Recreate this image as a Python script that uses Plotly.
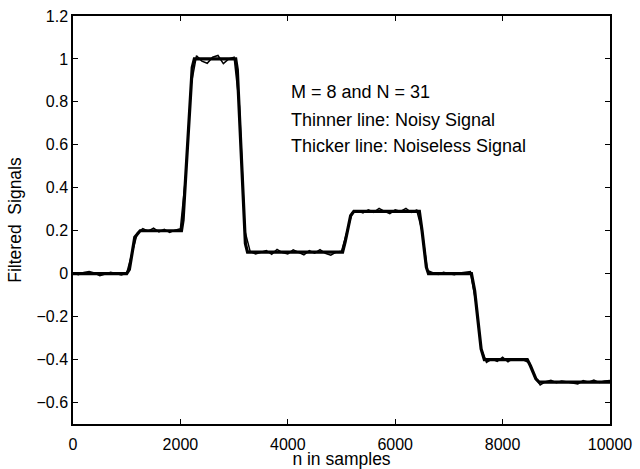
import plotly.graph_objects as go

# Noiseless (thick) signal: breakpoints
clean_n = [0, 1000, 1050, 1150, 1250, 2020, 2050, 2220, 2260, 3030, 3060, 3210, 3250,
           5020, 5070, 5170, 5230, 6450, 6500, 6580, 6620, 7420, 7480, 7600, 7660,
           8460, 8520, 8620, 8680, 10000]
clean_y = [0, 0, 0.02, 0.17, 0.2, 0.2, 0.25, 0.96, 1.0, 1.0, 0.95, 0.14, 0.1,
           0.1, 0.15, 0.27, 0.29, 0.29, 0.2, 0.03, 0, 0, -0.08, -0.35, -0.4,
           -0.4, -0.43, -0.49, -0.505, -0.505]

noisy_n = list(range(0, 10001, 100))
noisy_y = [0.004, -0.005, 0.006, 0.01, 0.003, -0.009, -0.002, 0.007, 0.001, -0.006, 0.002,
           0.09, 0.19,
           0.21, 0.198, 0.212, 0.195, 0.206, 0.192, 0.203, 0.209,
           0.46, 0.88,
           1.015, 0.99, 0.98, 1.008, 1.016, 0.978, 1.0, 1.008,
           0.78, 0.2,
           0.103, 0.092, 0.1, 0.108, 0.09, 0.113, 0.098, 0.092, 0.111, 0.1, 0.088, 0.107,
           0.096, 0.112, 0.095, 0.086, 0.1, 0.104,
           0.19, 0.285,
           0.293, 0.283, 0.297, 0.286, 0.304, 0.29, 0.28, 0.297, 0.29, 0.304, 0.285, 0.296,
           0.2, 0.015,
           0.005, -0.004, 0.006, 0.0, -0.005, 0.003, 0.006, 0.01,
           -0.13, -0.35,
           -0.413, -0.398, -0.408, -0.389, -0.41, -0.396, -0.401, -0.403,
           -0.415, -0.48,
           -0.518, -0.503, -0.496, -0.508, -0.5, -0.505, -0.511, -0.513, -0.498, -0.505,
           -0.495, -0.507, -0.5, -0.498]

x_ticks = [0, 2000, 4000, 6000, 8000, 10000]
y_ticks = [-0.6, -0.4, -0.2, 0, 0.2, 0.4, 0.6, 0.8, 1, 1.2]
y_tick_labels = ["\u22120.6", "\u22120.4", "\u22120.2", "0", "0.2", "0.4", "0.6", "0.8", "1", "1.2"]

notes = ["M = 8 and N = 31", "Thinner line: Noisy Signal", "Thicker line: Noiseless Signal"]
note_y = [0.845, 0.718, 0.596]

fig = go.Figure()
fig.add_trace(go.Scatter(x=clean_n, y=clean_y, mode="lines",
                         line=dict(color="black", width=3.2), showlegend=False))
fig.add_trace(go.Scatter(x=noisy_n, y=noisy_y, mode="lines",
                         line=dict(color="black", width=1.5), showlegend=False))

for txt, yy in zip(notes, note_y):
    fig.add_annotation(x=4020, y=yy, text=txt, showarrow=False, xanchor="left",
                       yanchor="middle", font=dict(size=18, color="black"))

axis_common = dict(showgrid=False, zeroline=False, showline=True, linecolor="black",
                   linewidth=1.5, mirror="ticks", ticks="inside", ticklen=5,
                   tickwidth=1.2, tickcolor="black", automargin=False,
                   tickfont=dict(size=16, color="black"))

fig.update_xaxes(range=[0, 10000], tickvals=x_ticks,
                 ticktext=[str(v) for v in x_ticks], ticklabelstandoff=5,
                 title=dict(text="n in samples", font=dict(size=17.5, color="black"), standoff=2),
                 **axis_common)
fig.update_yaxes(range=[-0.7, 1.2], tickvals=y_ticks, ticktext=y_tick_labels,
                 title=dict(text="Filtered\u00a0\u00a0Signals", font=dict(size=17.5, color="black"), standoff=10),
                 **axis_common)

fig.update_layout(width=640, height=469, margin=dict(l=73, r=30, t=16, b=45),
                  paper_bgcolor="white", plot_bgcolor="white",
                  font=dict(family="Liberation Sans, Arial, sans-serif", color="black"))

fig.write_html("out.html")
